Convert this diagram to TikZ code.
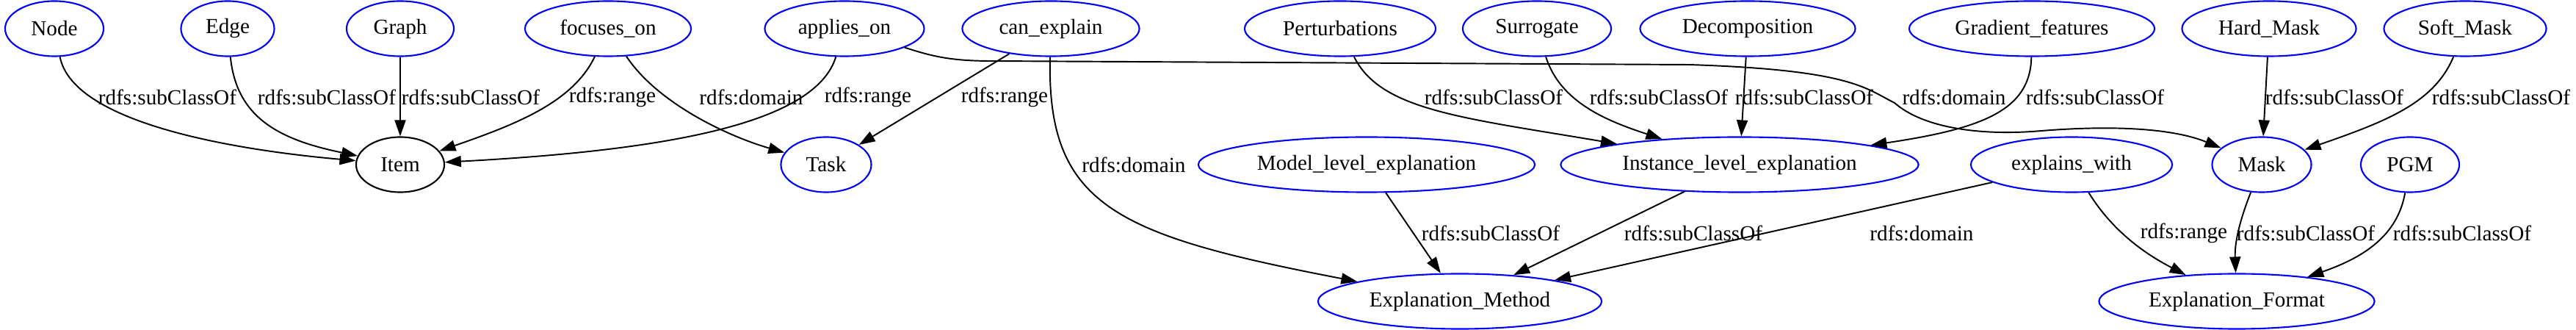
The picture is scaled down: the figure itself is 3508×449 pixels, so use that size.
\documentclass[tikz,border=0pt]{standalone}
\usepackage{fontspec}
\setmainfont{Liberation Serif}
\newfontfamily\gvfont{Liberation Serif}
\usetikzlibrary{shapes.geometric,arrows.meta}
\definecolor{ClsBlue}{RGB}{0,0,255}
\tikzset{
  cls/.style={ellipse,draw=ClsBlue,line width=0.6pt,inner sep=0pt,
    minimum width=#1cm,minimum height=0.75cm,font=\gvfont\fontsize{8.3}{10}\selectfont},
  itm/.style={cls=#1,draw=black},
  rel/.style={draw=black,line width=0.55pt,-{Triangle[length=0.22cm,width=0.15cm]}},
  lbl/.style={inner sep=0pt,font=\gvfont\fontsize{8.3}{10}\selectfont},
}
\begin{document}
\begin{tikzpicture}[x=0.01cm,y=-0.01cm]
        \useasboundingbox (0,0) rectangle (3508,449);
        % top row
        \node[cls=1.34] (node) at (74,39) {Node};
        \node[cls=1.27] (edge) at (310,39) {Edge};
        \node[cls=1.46] (graph) at (545,39) {Graph};
        \node[cls=2.26] (focus) at (828,39) {focuses\_on};
        \node[cls=2.17] (applies) at (1150,39) {applies\_on};
        \node[cls=2.41] (canexpl) at (1431,39) {can\_explain};
        \node[cls=2.60] (pert) at (1825,39) {Perturbations};
        \node[cls=2.02] (surr) at (2093,39) {Surrogate};
        \node[cls=2.93] (decomp) at (2380,39) {Decomposition};
        \node[cls=3.34] (grad) at (2767,39) {Gradient\_features};
        \node[cls=2.37] (hard) at (3090,39) {Hard\_Mask};
        \node[cls=2.21] (soft) at (3357,39) {Soft\_Mask};
        % middle row
        \node[itm=1.20] (item) at (545,224) {Item};
        \node[cls=1.23] (task) at (1125,224) {Task};
        \node[cls=4.58] (model) at (1861,224) {Model\_level\_explanation};
        \node[cls=4.87] (inst) at (2369,224) {Instance\_level\_explanation};
        \node[cls=2.74] (expw) at (2821,224) {explains\_with};
        \node[cls=1.35] (mask) at (3080,224) {Mask};
        \node[cls=1.34] (pgm) at (3282,224) {PGM};
        % bottom row
        \node[cls=3.86] (method) at (1988,410) {Explanation\_Method};
        \node[cls=3.75] (format) at (3046,410) {Explanation\_Format};

        \draw[rel] (node) .. controls (100,170) and (330,205) .. (item);
        \draw[rel] (edge) .. controls (322,160) and (380,190) .. (item);
        \draw[rel] (graph) -- (item);
        \draw[rel] (focus) .. controls (780,140) and (700,170) .. (item);
        \draw[rel] (focus) .. controls (895,140) and (990,185) .. (task);
        \draw[rel] (applies) .. controls (1110,170) and (900,205) .. (item);
        \draw[rel] (applies) .. controls (1265,75) and (1290,83) .. (1350,83)
          -- (2300,88) .. controls (2520,95) and (2540,120) .. (2580,140)
          .. controls (2620,175) and (2700,185) .. (2780,178)
          .. controls (2880,170) and (2960,175) .. (mask);
        \draw[rel] (canexpl) -- (task);
        \draw[rel] (canexpl) .. controls (1425,280) and (1520,320) .. (method);
        \draw[rel] (pert) .. controls (1880,150) and (1990,160) .. (inst);
        \draw[rel] (surr) .. controls (2125,140) and (2190,165) .. (inst);
        \draw[rel] (decomp) -- (inst);
        \draw[rel] (grad) .. controls (2765,150) and (2700,175) .. (inst);
        \draw[rel] (hard) -- (mask);
        \draw[rel] (soft) .. controls (3315,140) and (3250,165) .. (mask);
        \draw[rel] (model) -- (method);
        \draw[rel] (inst) -- (method);
        \draw[rel] (expw) -- (method);
        \draw[rel] (expw) .. controls (2880,320) and (2930,350) .. (format);
        \draw[rel] (mask) .. controls (3050,300) and (3043,330) .. (format);
        \draw[rel] (pgm) .. controls (3265,320) and (3220,350) .. (format);

        % edge labels
        \node[lbl] (l1) at (228,132) {rdfs:subClassOf};
        \node[lbl] (l2) at (445,132) {rdfs:subClassOf};
        \node[lbl] (l3) at (641,132) {rdfs:subClassOf};
        \node[lbl] (l4) at (834,132) {rdfs:range};
        \node[lbl] (l5) at (1023,132) {rdfs:domain};
        \node[lbl] (l6) at (1182,132) {rdfs:range};
        \node[lbl] (l7) at (1368,132) {rdfs:range};
        \node[lbl] (l8) at (2034,132) {rdfs:subClassOf};
        \node[lbl] (l9) at (2259,132) {rdfs:subClassOf};
        \node[lbl] (l10) at (2457,132) {rdfs:subClassOf};
        \node[lbl] (l11) at (2661,132) {rdfs:domain};
        \node[lbl] (l12) at (2853,132) {rdfs:subClassOf};
        \node[lbl] (l13) at (3179,132) {rdfs:subClassOf};
        \node[lbl] (l14) at (3406,132) {rdfs:subClassOf};
        \node[lbl] (l15) at (1544,224) {rdfs:domain};
        \node[lbl] (l16) at (2030,317) {rdfs:subClassOf};
        \node[lbl] (l17) at (2306,317) {rdfs:subClassOf};
        \node[lbl] (l18) at (2617,317) {rdfs:domain};
        \node[lbl] (l19) at (2974,317) {rdfs:range};
        \node[lbl] (l20) at (3140,317) {rdfs:subClassOf};
        \node[lbl] (l21) at (3353,317) {rdfs:subClassOf};
\end{tikzpicture}
\end{document}
